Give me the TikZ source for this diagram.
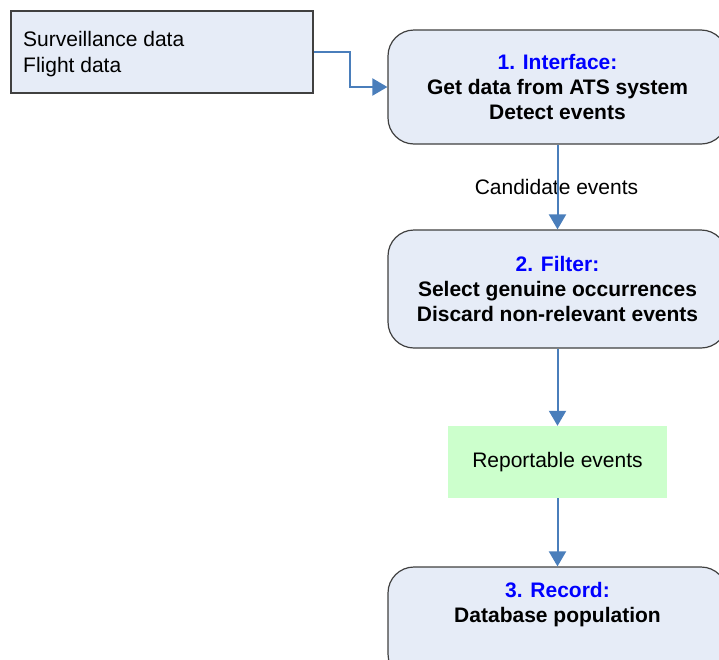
\documentclass[tikz,border=0pt]{standalone}
\usepackage{fontspec}
\setmainfont{Liberation Sans}
\usetikzlibrary{arrows.meta}
\definecolor{boxfill}{HTML}{E6ECF7}
\definecolor{boxline}{HTML}{404040}
\definecolor{flowblue}{HTML}{4A7EBB}
\definecolor{titleblue}{HTML}{0000FF}
\definecolor{eventgreen}{HTML}{CCFFCC}
\tikzset{
  every node/.style={font=\fontsize{21}{25}\selectfont, inner sep=0pt},
  srcbox/.style={draw=boxline, fill=boxfill, line width=1.2pt, minimum width=302pt, minimum height=82pt},
  stagebox/.style={draw=boxline, fill=boxfill, line width=1.2pt, rounded corners=26pt, minimum width=339pt},
  evbox/.style={fill=eventgreen, minimum width=219pt, minimum height=72pt},
  flow/.style={draw=flowblue, line width=2pt, -{Triangle[width=17pt,length=15pt]}},
  stagetext/.style={align=center, font=\fontsize{21}{25}\selectfont\bfseries},
  ttl/.style={text=titleblue}
}
\begin{document}
\begin{tikzpicture}[x=1pt,y=1pt]
\useasboundingbox (0,0) rectangle (719,-659);
\clip (0,0) rectangle (719,-659);

% input data
\node[srcbox] (src) at (162,-52) {};
\node[anchor=base west, align=left, font=\fontsize{21}{26}\selectfont] (srctext) at (23,-72) {Surveillance data\\Flight data};

% processing stages
\node[stagebox, minimum height=114pt] (interface) at (557.5,-87) {};
\node[stagetext] (ifacetext) at (557.5,-86.5) {\textcolor{titleblue}{1. Interface:}\\Get data from ATS system\\Detect events};

\node[stagebox, minimum height=118pt] (filter) at (557.5,-289) {};
\node[stagetext] (filtertext) at (557.5,-288.5) {\textcolor{titleblue}{2. Filter:}\\Select genuine occurrences\\Discard non-relevant events};

\node[evbox] (report) at (557.5,-462) {};
\node (reporttext) at (557.5,-462.5) {Reportable events};

\node[stagebox, minimum height=113pt] (record) at (557.5,-623.5) {};
\node[stagetext] (recordtext) at (557.5,-605) {\textcolor{titleblue}{3. Record:}\\Database population};

% connectors
\coordinate (bend1) at (350,-52);
\coordinate (bend2) at (350,-87);
\node (candidate) at (556.5,-187) {Candidate events};
\draw[flow] (src.east |- bend1) -- (bend1) -- (bend2) -- (interface.west);
\draw[flow] (interface.south) -- (filter.north);
\draw[flow] (filter.south) -- (report.north);
\draw[flow] (report.south) -- (record.north);
\end{tikzpicture}
\end{document}
